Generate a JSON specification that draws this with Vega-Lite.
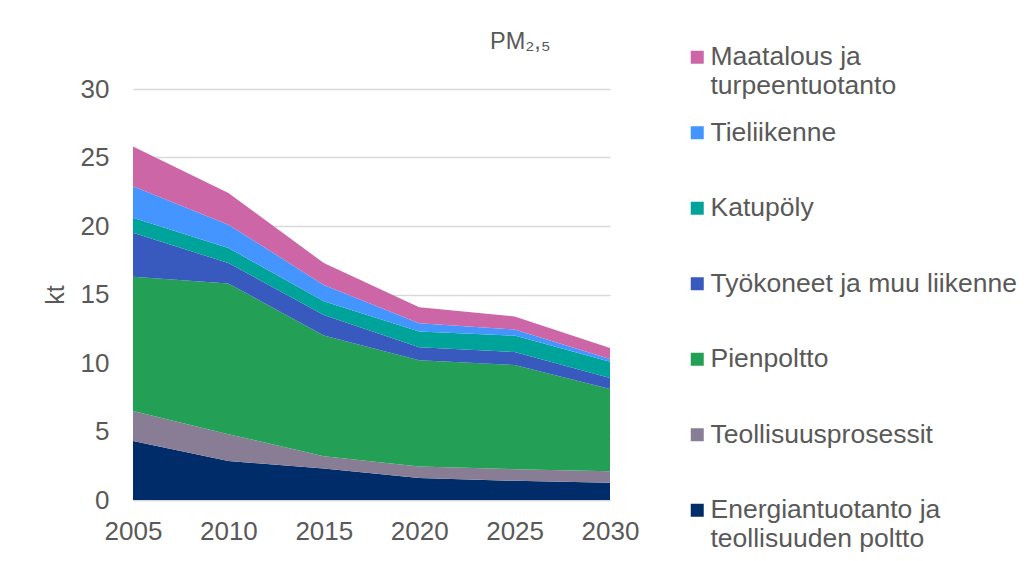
{
  "$schema": "https://vega.github.io/schema/vega-lite/v6.json",
  "width": 477,
  "height": 411,
  "autosize": "none",
  "padding": {"left": 133, "top": 89, "right": 417, "bottom": 61},
  "background": "white",
  "config": {"font": "Liberation Sans", "view": {"stroke": null}},
  "title": {"text": "PM₂,₅", "anchor": "start", "frame": "group", "dx": 357, "dy": 42, "offset": 33, "fontSize": 23.5, "fontWeight": "normal", "color": "#595959", "font": "Liberation Sans"},
  "data": {"values": [
    {"year": 2005, "series": "Energiantuotanto ja teollisuuden poltto", "value": 4.3},
    {"year": 2010, "series": "Energiantuotanto ja teollisuuden poltto", "value": 2.85},
    {"year": 2015, "series": "Energiantuotanto ja teollisuuden poltto", "value": 2.3},
    {"year": 2020, "series": "Energiantuotanto ja teollisuuden poltto", "value": 1.6},
    {"year": 2025, "series": "Energiantuotanto ja teollisuuden poltto", "value": 1.4},
    {"year": 2030, "series": "Energiantuotanto ja teollisuuden poltto", "value": 1.26},
    {"year": 2005, "series": "Teollisuusprosessit", "value": 2.2},
    {"year": 2010, "series": "Teollisuusprosessit", "value": 1.95},
    {"year": 2015, "series": "Teollisuusprosessit", "value": 0.9},
    {"year": 2020, "series": "Teollisuusprosessit", "value": 0.85},
    {"year": 2025, "series": "Teollisuusprosessit", "value": 0.85},
    {"year": 2030, "series": "Teollisuusprosessit", "value": 0.84},
    {"year": 2005, "series": "Pienpoltto", "value": 9.8},
    {"year": 2010, "series": "Pienpoltto", "value": 11.0},
    {"year": 2015, "series": "Pienpoltto", "value": 8.8},
    {"year": 2020, "series": "Pienpoltto", "value": 7.75},
    {"year": 2025, "series": "Pienpoltto", "value": 7.6},
    {"year": 2030, "series": "Pienpoltto", "value": 6.0},
    {"year": 2005, "series": "Työkoneet ja muu liikenne", "value": 3.2},
    {"year": 2010, "series": "Työkoneet ja muu liikenne", "value": 1.5},
    {"year": 2015, "series": "Työkoneet ja muu liikenne", "value": 1.5},
    {"year": 2020, "series": "Työkoneet ja muu liikenne", "value": 0.95},
    {"year": 2025, "series": "Työkoneet ja muu liikenne", "value": 0.95},
    {"year": 2030, "series": "Työkoneet ja muu liikenne", "value": 0.8},
    {"year": 2005, "series": "Katupöly", "value": 1.1},
    {"year": 2010, "series": "Katupöly", "value": 1.1},
    {"year": 2015, "series": "Katupöly", "value": 1.0},
    {"year": 2020, "series": "Katupöly", "value": 1.15},
    {"year": 2025, "series": "Katupöly", "value": 1.2},
    {"year": 2030, "series": "Katupöly", "value": 1.2},
    {"year": 2005, "series": "Tieliikenne", "value": 2.3},
    {"year": 2010, "series": "Tieliikenne", "value": 1.7},
    {"year": 2015, "series": "Tieliikenne", "value": 1.2},
    {"year": 2020, "series": "Tieliikenne", "value": 0.6},
    {"year": 2025, "series": "Tieliikenne", "value": 0.45},
    {"year": 2030, "series": "Tieliikenne", "value": 0.2},
    {"year": 2005, "series": "Maatalous ja turpeentuotanto", "value": 2.9},
    {"year": 2010, "series": "Maatalous ja turpeentuotanto", "value": 2.3},
    {"year": 2015, "series": "Maatalous ja turpeentuotanto", "value": 1.6},
    {"year": 2020, "series": "Maatalous ja turpeentuotanto", "value": 1.17},
    {"year": 2025, "series": "Maatalous ja turpeentuotanto", "value": 0.95},
    {"year": 2030, "series": "Maatalous ja turpeentuotanto", "value": 0.8}
  ]},
  "transform": [
    {"calculate": "indexof(['Energiantuotanto ja teollisuuden poltto','Teollisuusprosessit','Pienpoltto','Työkoneet ja muu liikenne','Katupöly','Tieliikenne','Maatalous ja turpeentuotanto'], datum.series)", "as": "k"}
  ],
  "mark": {"type": "area"},
  "encoding": {
    "x": {"field": "year", "type": "quantitative", "scale": {"domain": [2005, 2030], "nice": false},
      "axis": {"values": [2005, 2010, 2015, 2020, 2025, 2030], "format": "d", "title": null, "grid": false, "ticks": false,
        "domainColor": "#d9d9d9", "domainWidth": 1.5, "labelFontSize": 26, "labelColor": "#595959", "labelPadding": 18, "labelFlush": false}},
    "y": {"field": "value", "type": "quantitative", "stack": "zero", "scale": {"domain": [0, 30], "nice": false},
      "axis": {"values": [0, 5, 10, 15, 20, 25, 30], "title": "kt", "titleFontSize": 25, "titleFontWeight": "normal", "titleColor": "#595959",
        "titlePadding": 12, "domain": false, "ticks": false, "gridColor": "#d9d9d9", "gridWidth": 1.5,
        "labelFontSize": 26, "labelColor": "#595959", "labelPadding": 24}},
    "color": {"field": "series", "type": "nominal",
      "scale": {"domain": ["Maatalous ja turpeentuotanto", "Tieliikenne", "Katupöly", "Työkoneet ja muu liikenne", "Pienpoltto", "Teollisuusprosessit", "Energiantuotanto ja teollisuuden poltto"],
        "range": ["#CC66A7", "#4495FF", "#00A39A", "#3859BD", "#23A055", "#897D96", "#002D69"]},
      "legend": {"orient": "none", "legendX": 551, "legendY": -45, "padding": 0, "title": null, "symbolType": "square", "symbolSize": 169,
        "symbolStrokeWidth": 0, "symbolOpacity": 1, "labelFontSize": 26.5, "labelColor": "#595959", "labelLimit": 400, "rowPadding": 19.5, "labelOffset": 0,
        "labelExpr": "datum.label == 'Maatalous ja turpeentuotanto' ? ['Maatalous ja', 'turpeentuotanto'] : datum.label == 'Energiantuotanto ja teollisuuden poltto' ? ['Energiantuotanto ja', 'teollisuuden poltto'] : [datum.label, ' ']"}},
    "order": {"field": "k", "type": "quantitative"}
  }
}
